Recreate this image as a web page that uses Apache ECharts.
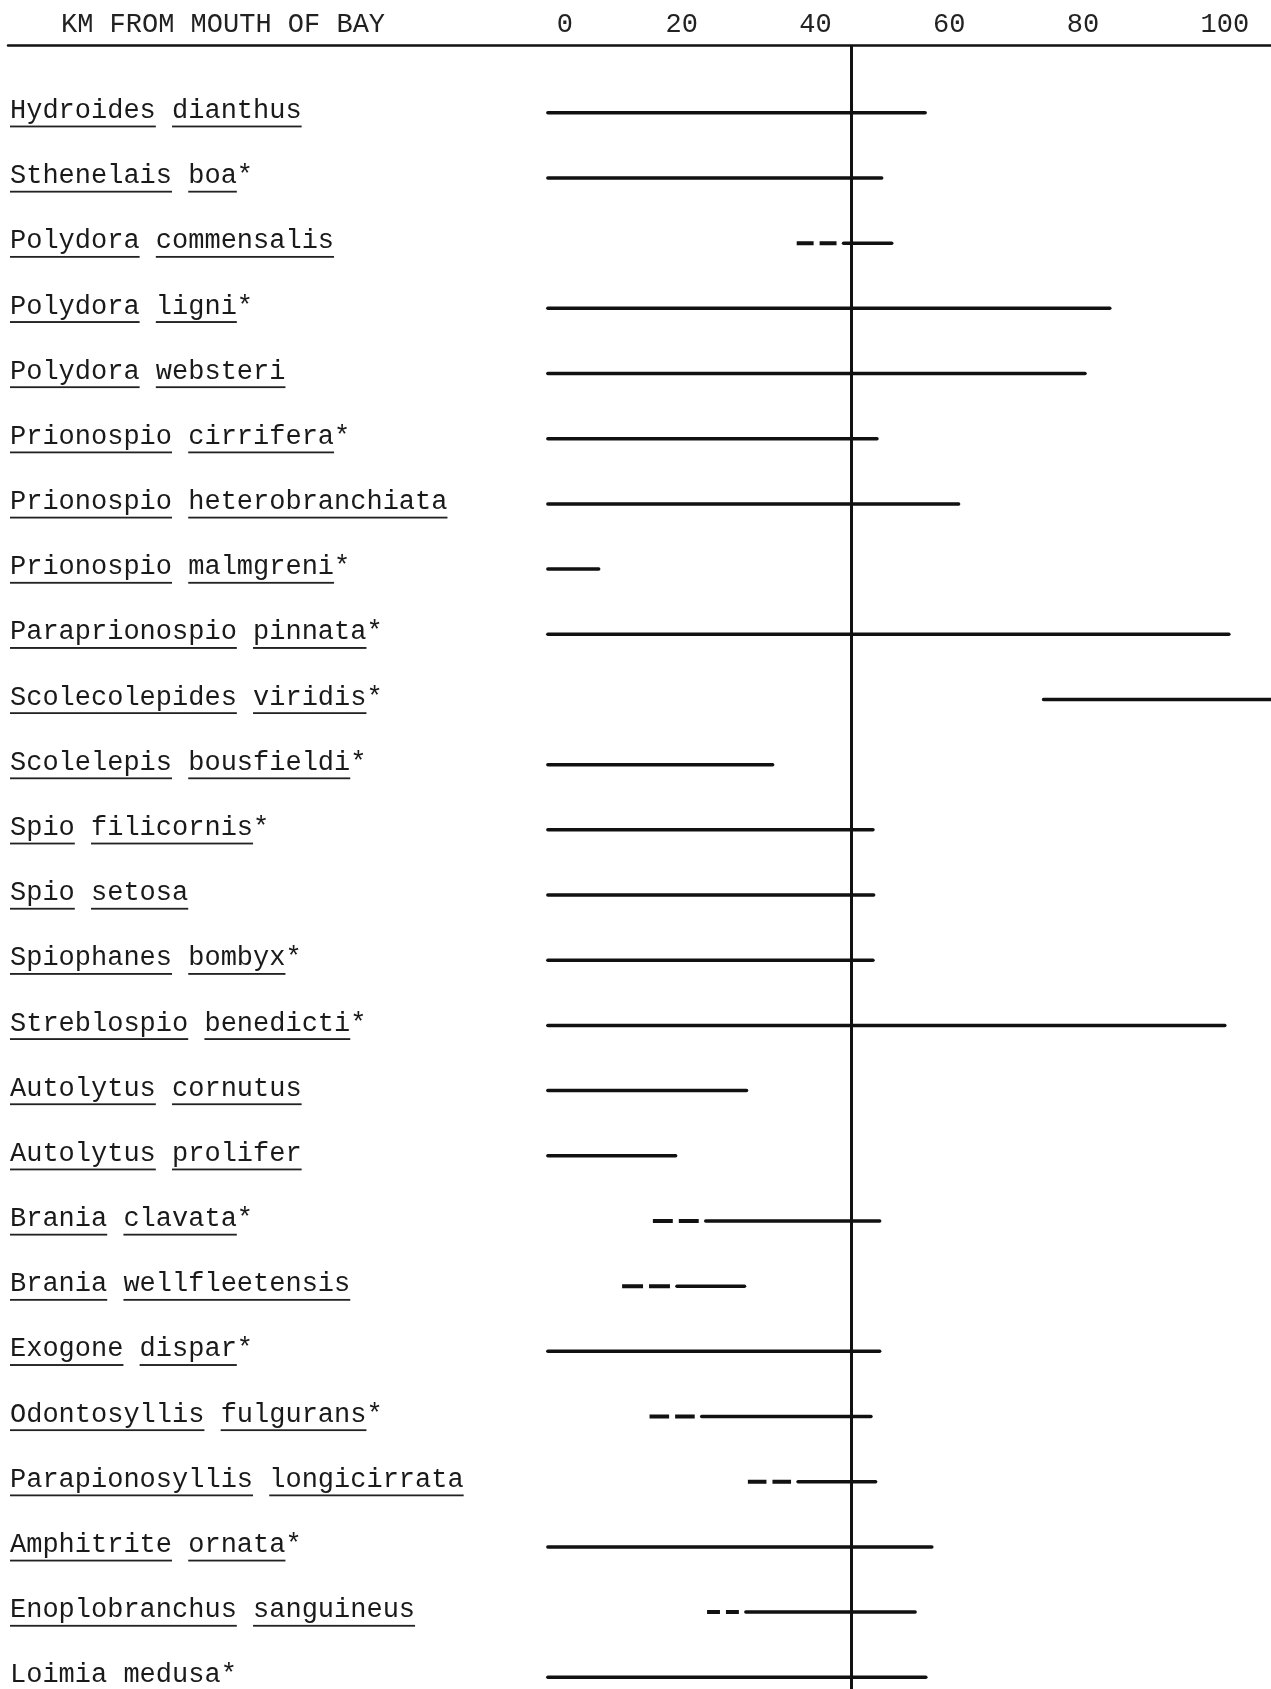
<!DOCTYPE html>
<html>
<head>
<meta charset="utf-8">
<title>KM from mouth of bay</title>
<script src="https://cdn.jsdelivr.net/npm/echarts@6.0.0/dist/echarts.min.js"></script>
<style>
  html, body { margin: 0; padding: 0; background: #fff; }
  #chart { width: 1271px; height: 1689px; }
</style>
</head>
<body>
<div id="chart"></div>
<script>
// species, top to bottom
var species = [
  'Hydroides dianthus',
  'Sthenelais boa*',
  'Polydora commensalis',
  'Polydora ligni*',
  'Polydora websteri',
  'Prionospio cirrifera*',
  'Prionospio heterobranchiata',
  'Prionospio malmgreni*',
  'Paraprionospio pinnata*',
  'Scolecolepides viridis*',
  'Scolelepis bousfieldi*',
  'Spio filicornis*',
  'Spio setosa',
  'Spiophanes bombyx*',
  'Streblospio benedicti*',
  'Autolytus cornutus',
  'Autolytus prolifer',
  'Brania clavata*',
  'Brania wellfleetensis',
  'Exogone dispar*',
  'Odontosyllis fulgurans*',
  'Parapionosyllis longicirrata',
  'Amphitrite ornata*',
  'Enoplobranchus sanguineus',
  'Loimia medusa*'
];
// km where the dashed (uncertain) part starts, null = none
var dashFrom = [null, null, 37.2, null, null, null, null, null, null, null,
  null, null, null, null, null, null, null, 15.7, 11.1, null,
  15.2, 29.9, null, 23.8, null];
// km where the solid line starts
var solidFrom = [0, 0, 44.2, 0, 0, 0, 0, 0, 0, 74.1,
  0, 0, 0, 0, 0, 0, 0, 23.6, 19.3, 0,
  23.0, 37.4, 0, 29.6, 0];
// km where the range ends
var rangeEnd = [56.4, 49.9, 51.4, 84.0, 80.3, 49.2, 61.4, 7.6, 101.8, 110,
  33.6, 48.6, 48.7, 48.6, 101.2, 29.7, 19.1, 49.6, 29.4, 49.6,
  48.3, 49.0, 57.4, 54.9, 56.5];
var kmTicks = [0, 20, 40, 60, 80, 100];
var divideKm = 45.3;

var FONT = '"Liberation Mono", "DejaVu Sans Mono", monospace';
var INK = '#111';

// little image used to underline words (typewriter style)
var ul = document.createElement('canvas');
ul.width = 8;
ul.height = 34;
var uctx = ul.getContext('2d');
uctx.fillStyle = '#222';
uctx.fillRect(0, 31, 8, 2);

function underlined(name) {
  return name.split(' ').map(function (w) {
    var star = '';
    if (w.charAt(w.length - 1) === '*') {
      star = '{s|*}';
      w = w.slice(0, -1);
    }
    return '{u|' + w + '}' + star;
  }).join('{s| }');
}

var rows = species.map(function (n, i) { return i; });
var data = species.map(function (n, i) {
  return [i, dashFrom[i] == null ? '-' : dashFrom[i], solidFrom[i], rangeEnd[i]];
});

var chart = echarts.init(document.getElementById('chart'));

var option = {
  backgroundColor: '#fff',
  animation: false,
  grid: { left: 8, right: 0, top: 45, bottom: 0, containLabel: false, outerBoundsMode: 'none' },
  graphic: [{
    type: 'text',
    left: 61,
    top: 11,
    style: { text: 'KM FROM MOUTH OF BAY', font: '27px ' + FONT, fill: '#222' }
  }],
  xAxis: {
    type: 'value',
    position: 'top',
    min: -80.7,
    max: 108.1,
    axisLine: { show: true, onZero: false, lineStyle: { color: INK, width: 2.5 } },
    axisTick: { show: false },
    splitLine: { show: false },
    axisLabel: {
      customValues: kmTicks,
      margin: 7,
      fontFamily: FONT,
      fontSize: 27,
      color: '#222',
      // the typed numbers sit a little off their ticks
      formatter: function (v) {
        if (v === 0) return '{z|0}';
        if (v === 100) return '{h|100}';
        return String(v);
      },
      rich: {
        z: { fontFamily: FONT, fontSize: 27, color: '#222', padding: [0, 0, 0, 34] },
        h: { fontFamily: FONT, fontSize: 27, color: '#222', padding: [0, 0, 0, 16] }
      }
    }
  },
  yAxis: {
    type: 'value',
    inverse: true,
    min: -1.04,
    max: 24.18,
    axisLine: { show: false },
    axisTick: { show: false },
    splitLine: { show: false },
    axisLabel: {
      customValues: rows,
      inside: true,
      margin: 2,
      formatter: function (v) { return underlined(species[Math.round(v)]); },
      rich: {
        u: {
          fontFamily: FONT, fontSize: 27, color: '#1a1a1a',
          lineHeight: 30, padding: [0, 0, 4, 0],
          backgroundColor: { image: ul }
        },
        s: {
          fontFamily: FONT, fontSize: 27, color: '#1a1a1a',
          lineHeight: 30, padding: [0, 0, 4, 0]
        }
      }
    }
  },
  series: [{
    type: 'custom',
    data: data,
    encode: { x: [1, 2, 3], y: 0 },
    renderItem: function (params, api) {
      var row = api.value(0);
      var a = api.coord([api.value(2), row]);
      var b = api.coord([api.value(3), row]);
      var kids = [{
        type: 'line',
        shape: { x1: a[0], y1: a[1], x2: b[0], y2: b[1] },
        style: { stroke: INK, lineWidth: 3.5, lineCap: 'round' }
      }];
      var d = api.value(1);
      if (!isNaN(d)) {
        // two typed dashes in front of the solid part
        var c = api.coord([d, row]);
        var end = a[0] - 7;
        var dash = Math.max((end - c[0] - 6) / 2, 4);
        kids.push({
          type: 'line',
          shape: { x1: c[0], y1: c[1], x2: end, y2: a[1] },
          style: { stroke: INK, lineWidth: 4, lineDash: [dash, 6], lineCap: 'butt' }
        });
      }
      return { type: 'group', children: kids };
    },
    markLine: {
      silent: true,
      symbol: 'none',
      label: { show: false },
      lineStyle: { color: INK, width: 3, type: 'solid' },
      data: [{ xAxis: divideKm }]
    }
  }]
};

chart.setOption(option);
</script>
</body>
</html>
